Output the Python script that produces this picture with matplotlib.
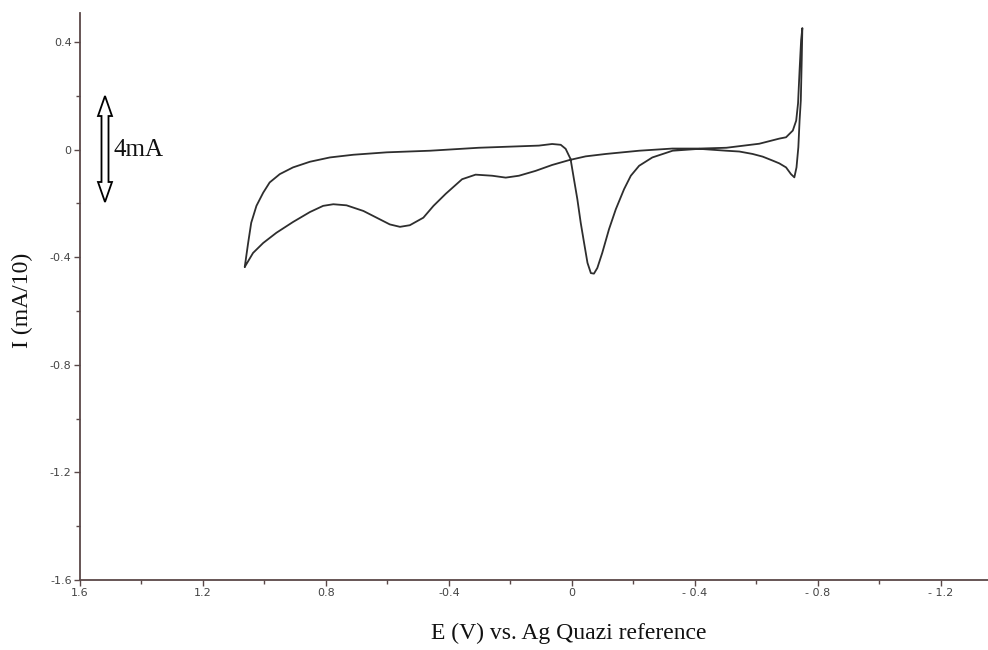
import matplotlib
matplotlib.use("Agg")
import matplotlib.pyplot as plt
from matplotlib.patches import Polygon
from matplotlib.transforms import Affine2D

# Forward branch: from the left corner to the top spike
fwd_E = [1.064, 1.037, 1.004, 0.961, 0.907, 0.852, 0.809, 0.776, 0.733, 0.678,
         0.635, 0.592, 0.559, 0.527, 0.483, 0.450, 0.410, 0.357, 0.313, 0.259,
         0.215, 0.172, 0.118, 0.064, 0.009, -0.045, -0.111, -0.219, -0.327, -0.415,
         -0.503, -0.610, -0.675, -0.697, -0.719, -0.730, -0.736, -0.741, -0.746, -0.750]
fwd_I = [-0.436, -0.384, -0.347, -0.309, -0.269, -0.232, -0.209, -0.203, -0.207, -0.228,
         -0.253, -0.278, -0.287, -0.281, -0.253, -0.209, -0.164, -0.110, -0.093, -0.097,
         -0.104, -0.097, -0.079, -0.057, -0.039, -0.025, -0.016, -0.004, 0.004, 0.004,
         0.007, 0.022, 0.041, 0.046, 0.071, 0.108, 0.172, 0.295, 0.407, 0.452]

# Reverse branch: from the spike back to the left corner
rev_E = [-0.750, -0.748, -0.745, -0.741, -0.737, -0.731, -0.724, -0.713, -0.697, -0.675,
         -0.654, -0.621, -0.588, -0.545, -0.502, -0.415, -0.328, -0.262, -0.219, -0.192,
         -0.170, -0.143, -0.121, -0.099, -0.083, -0.072, -0.062, -0.051, -0.040, -0.029,
         -0.018, -0.007, 0.004, 0.020, 0.036, 0.064, 0.107, 0.303, 0.461, 0.602,
         0.711, 0.787, 0.852, 0.907, 0.950, 0.983, 1.004, 1.026, 1.043, 1.053, 1.064]
rev_I = [0.452, 0.333, 0.183, 0.108, 0.009, -0.066, -0.103, -0.091, -0.066, -0.051,
         -0.041, -0.026, -0.016, -0.007, -0.004, 0.003, -0.004, -0.029, -0.060, -0.097,
         -0.147, -0.222, -0.296, -0.384, -0.440, -0.461, -0.459, -0.421, -0.347, -0.272,
         -0.184, -0.110, -0.035, 0.003, 0.018, 0.021, 0.015, 0.007, -0.004, -0.010,
         -0.019, -0.029, -0.045, -0.066, -0.091, -0.122, -0.160, -0.209, -0.272, -0.347, -0.436]

x_ticks = [1.6, 1.2, 0.8, 0.4, 0.0, -0.4, -0.8, -1.2]
x_tick_labels = ["1.6", "1.2", "0.8", "-0.4", "0", "- 0.4", "- 0.8", "- 1.2"]
y_ticks = [0.4, 0.0, -0.4, -0.8, -1.2, -1.6]
y_tick_labels = ["0.4", "0", "-0.4", "-0.8", "-1.2", "-1.6"]

W, H = 988, 650
fig = plt.figure(figsize=(W / 100, H / 100), dpi=100)
ax = fig.add_axes([80 / W, (H - 580) / H, (W - 80) / W, (580 - 13) / H])

line_col = "#2e2e2e"
ax.plot(fwd_E + rev_E, fwd_I + rev_I, color=line_col, lw=1.3,
        solid_joinstyle="round", solid_capstyle="round")

ax.set_xlim(1.6, -1.354)
ax.set_ylim(-1.6, 0.508)

spine_col = "#5a4848"
for s in ["top", "right"]:
    ax.spines[s].set_visible(False)
for s in ["left", "bottom"]:
    ax.spines[s].set_color(spine_col)
    ax.spines[s].set_linewidth(1.3)

ax.set_xticks(x_ticks)
ax.set_xticklabels(x_tick_labels)
ax.set_yticks(y_ticks)
ax.set_yticklabels(y_tick_labels)
ax.set_xticks([1.4, 1.0, 0.6, 0.2, -0.2, -0.6, -1.0], minor=True)
ax.set_yticks([0.2, -0.2, -0.6, -1.0, -1.4], minor=True)
ax.tick_params(which="both", direction="out", color=spine_col, width=1.0)
ax.tick_params(which="major", length=4, labelsize=8, labelcolor="#444444", pad=2)
ax.tick_params(which="minor", length=3)

serif = ["Liberation Serif", "DejaVu Serif"]
fig.text(22 / W, 1 - 300 / H, "I (mA/10)", rotation=90, ha="center", va="center",
         fontsize=17, family=serif, color="#111111")
fig.text(569 / W, 1 - 633 / H, "E (V) vs. Ag Quazi reference", ha="center", va="center",
         fontsize=17, family=serif, color="#111111")

# hollow double-headed arrow (scale marker), drawn in pixel coordinates
cx, top, bot = 105, 96, 202
sw, hw, hl = 3.5, 7, 20
verts = [(cx, top), (cx + hw, top + hl), (cx + sw, top + hl), (cx + sw, bot - hl),
         (cx + hw, bot - hl), (cx, bot), (cx - hw, bot - hl), (cx - sw, bot - hl),
         (cx - sw, top + hl), (cx - hw, top + hl)]
tr = Affine2D().scale(1, -1).translate(0, H)
fig.patches.append(Polygon(verts, closed=True, facecolor="white", edgecolor="black",
                           lw=1.3, transform=tr, figure=fig))
fig.text(113 / W, 1 - 150 / H, "4mA", ha="left", va="center", fontsize=18,
         family=serif, color="#111111")

fig.savefig("out.png", dpi=100)
